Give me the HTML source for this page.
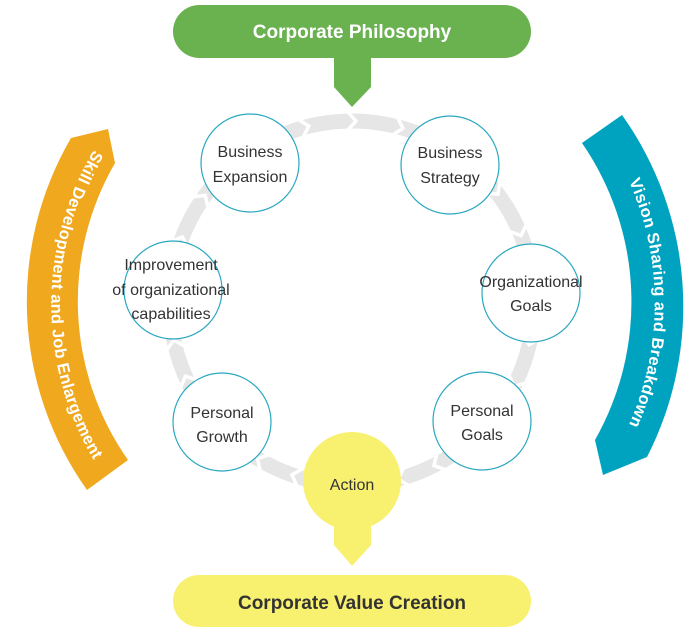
<!DOCTYPE html>
<html><head><meta charset="utf-8"><style>
html,body{margin:0;padding:0;background:#fff;}
svg{display:block;font-family:"Liberation Sans",sans-serif;}
.n{fill:#333;font-size:16px;text-anchor:middle;}
</style></head><body>
<svg width="700" height="634" viewBox="0 0 700 634" xmlns="http://www.w3.org/2000/svg">
<defs>
<path id="op" d="M 102.7 135.8 A 304 304 0 0 0 102.7 474.2"/>
<path id="tp" d="M 598 127.4 A 300 300 0 0 1 598 478.6"/>
</defs>
<!-- ring -->
<circle cx="352" cy="303" r="182" fill="none" stroke="#e6e6e6" stroke-width="15"/>
<g fill="none" stroke="#fff" stroke-width="3.5">
<g transform="translate(352 303)">
<polyline points="172,-5 182,4 192,-5" transform="rotate(255)"/>
<polyline points="172,-5 182,4 192,-5" transform="rotate(270)"/>
<polyline points="172,-5 182,4 192,-5" transform="rotate(285)"/>
<polyline points="172,-5 182,4 192,-5" transform="rotate(322)"/>
<polyline points="172,-5 182,4 192,-5" transform="rotate(337)"/>
<polyline points="172,-5 182,4 192,-5" transform="rotate(12)"/>
<polyline points="172,-5 182,4 192,-5" transform="rotate(26)"/>
<polyline points="172,-5 182,4 192,-5" transform="rotate(62)"/>
<polyline points="172,-5 182,4 192,-5" transform="rotate(74)"/>
<polyline points="172,-5 182,4 192,-5" transform="rotate(108)"/>
<polyline points="172,-5 182,4 192,-5" transform="rotate(120)"/>
<polyline points="172,-5 182,4 192,-5" transform="rotate(155)"/>
<polyline points="172,-5 182,4 192,-5" transform="rotate(167)"/>
<polyline points="172,-5 182,4 192,-5" transform="rotate(200)"/>
<polyline points="172,-5 182,4 192,-5" transform="rotate(215)"/>
</g></g>
<!-- orange arc -->
<path d="M 71 138 L 108 129 L 115 163 A 276 276 0 0 0 128 460 L 87 490 A 325 325 0 0 1 71 138 Z" fill="#f0a81e"/>
<text font-size="16.5" font-weight="bold" fill="#fff" letter-spacing="0.3"><textPath href="#op" startOffset="50%" text-anchor="middle">Skill Development and Job Enlargement</textPath></text>
<!-- teal arc -->
<path d="M 582 143 L 622 115 A 330 330 0 0 1 647 457 L 603 475 L 595 440 A 280 280 0 0 0 582 143 Z" fill="#00a3bf"/>
<text font-size="16.5" font-weight="bold" fill="#fff" letter-spacing="0.3"><textPath href="#tp" startOffset="50%" text-anchor="middle">Vision Sharing and Breakdown</textPath></text>
<!-- green top -->
<rect x="173" y="5" width="358" height="53" rx="26.5" fill="#6ab150"/>
<path d="M334 56 H371 V87 L352 107 L334 87 Z" fill="#6ab150"/>
<text x="352" y="38" text-anchor="middle" font-size="19" font-weight="bold" fill="#fff">Corporate Philosophy</text>
<!-- nodes -->
<g fill="#fff" stroke="#2aa7c0" stroke-width="1.2">
<circle cx="250" cy="163" r="49"/>
<circle cx="450" cy="165" r="49"/>
<circle cx="531" cy="293" r="49"/>
<circle cx="482" cy="421" r="49"/>
<circle cx="222" cy="422" r="49"/>
<circle cx="173" cy="290" r="49"/>
</g>
<text class="n" x="250" y="157">Business</text><text class="n" x="250" y="182">Expansion</text>
<text class="n" x="450" y="158">Business</text><text class="n" x="450" y="183">Strategy</text>
<text class="n" x="531" y="287">Organizational</text><text class="n" x="531" y="311">Goals</text>
<text class="n" x="482" y="416">Personal</text><text class="n" x="482" y="440">Goals</text>
<text class="n" x="222" y="418">Personal</text><text class="n" x="222" y="442">Growth</text>
<text class="n" x="171" y="270">Improvement</text><text class="n" x="171" y="295">of organizational</text><text class="n" x="171" y="319">capabilities</text>
<!-- action -->
<circle cx="352" cy="481" r="49" fill="#f8f06f"/>
<path d="M334 520 H371 V545 L352 566 L334 545 Z" fill="#f8f06f"/>
<text class="n" x="352" y="490">Action</text>
<rect x="173" y="575" width="358" height="52" rx="26" fill="#f8f06f"/>
<text x="352" y="609" text-anchor="middle" font-size="19" font-weight="bold" fill="#333">Corporate Value Creation</text>
</svg>
</body></html>
